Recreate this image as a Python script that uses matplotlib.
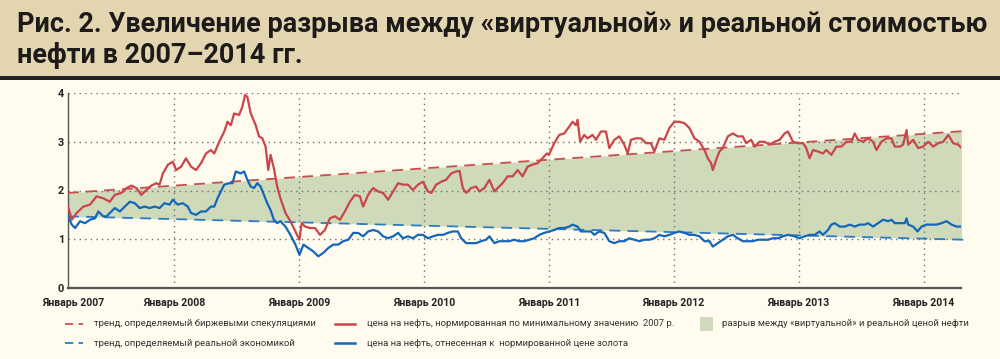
import numpy as np
import matplotlib
matplotlib.use("Agg")
import matplotlib.pyplot as plt
from matplotlib.lines import Line2D
from matplotlib.patches import Rectangle

# ---------------- data ----------------
oil_years = [2007.151, 2007.180, 2007.220, 2007.273, 2007.326, 2007.379, 2007.432, 2007.485, 2007.525, 2007.578,
             2007.618, 2007.658, 2007.698, 2007.737, 2007.777, 2007.817, 2007.857, 2007.883, 2007.910, 2007.950,
             2007.989, 2008.016, 2008.056, 2008.095, 2008.135, 2008.175, 2008.215, 2008.255, 2008.294, 2008.321,
             2008.361, 2008.401, 2008.427, 2008.454, 2008.480, 2008.520, 2008.546, 2008.568, 2008.586, 2008.613,
             2008.653, 2008.679, 2008.706, 2008.732, 2008.753, 2008.772, 2008.798, 2008.825, 2008.851, 2008.891,
             2008.931, 2008.971, 2009.003,
             2009.021, 2009.048, 2009.088, 2009.128, 2009.168, 2009.207, 2009.247, 2009.287, 2009.327, 2009.367,
             2009.407, 2009.447, 2009.487, 2009.513, 2009.553, 2009.593, 2009.633, 2009.673, 2009.713, 2009.753,
             2009.793, 2009.832, 2009.872, 2009.912, 2009.952, 2009.992, 2010.032, 2010.059, 2010.098, 2010.138,
             2010.178, 2010.218, 2010.258, 2010.285, 2010.311, 2010.338, 2010.378, 2010.418, 2010.444, 2010.484,
             2010.524, 2010.564, 2010.590, 2010.630, 2010.670, 2010.710, 2010.750, 2010.790, 2010.830, 2010.870,
             2010.910, 2010.949, 2010.984,
             2011.000, 2011.043, 2011.083, 2011.123, 2011.163, 2011.190, 2011.217, 2011.230, 2011.251, 2011.283,
             2011.310, 2011.350, 2011.377, 2011.417, 2011.457, 2011.484, 2011.524, 2011.564, 2011.604, 2011.631,
             2011.658, 2011.698, 2011.738, 2011.778, 2011.818, 2011.845, 2011.885, 2011.925, 2011.965, 2012.005,
             2012.045, 2012.086, 2012.126, 2012.166, 2012.206, 2012.246, 2012.273, 2012.299, 2012.313, 2012.340,
             2012.366, 2012.393, 2012.433, 2012.473, 2012.513, 2012.553, 2012.580, 2012.620, 2012.647, 2012.687,
             2012.727, 2012.767, 2012.807, 2012.848, 2012.888, 2012.914, 2012.955,
             2012.995, 2013.035, 2013.061, 2013.088, 2013.115, 2013.155, 2013.195, 2013.222, 2013.262, 2013.302,
             2013.342, 2013.382, 2013.422, 2013.449, 2013.476, 2013.516, 2013.556, 2013.596, 2013.623, 2013.663,
             2013.703, 2013.743, 2013.770, 2013.810, 2013.837, 2013.864, 2013.877, 2013.917, 2013.957, 2013.997,
             2014.037, 2014.078, 2014.118, 2014.158, 2014.198, 2014.238, 2014.278, 2014.305]
oil_norm = [1.67, 1.40, 1.54, 1.67, 1.71, 1.88, 1.84, 1.77, 1.91, 1.95,
            2.05, 2.10, 2.05, 1.91, 2.01, 2.10, 2.15, 2.12, 2.35, 2.53,
            2.59, 2.42, 2.49, 2.66, 2.49, 2.42, 2.56, 2.76, 2.83, 2.76,
            3.00, 3.21, 3.41, 3.34, 3.58, 3.55, 3.72, 3.96, 3.92, 3.58,
            3.34, 3.11, 3.07, 2.90, 2.42, 2.73, 2.46, 2.08, 1.84, 1.54,
            1.37, 1.16, 0.99,
            1.33, 1.26, 1.23, 1.23, 1.09, 1.19, 1.43, 1.47, 1.40, 1.57,
            1.77, 1.91, 1.88, 1.67, 1.91, 2.05, 1.98, 1.95, 1.81, 1.98,
            2.15, 2.12, 2.12, 2.01, 2.12, 2.18, 1.98, 1.95, 2.12, 2.18,
            2.22, 2.35, 2.39, 2.40, 2.05, 1.95, 2.05, 2.08, 1.98, 2.05,
            2.22, 1.98, 2.05, 2.15, 2.29, 2.29, 2.42, 2.29, 2.49, 2.53,
            2.56, 2.66, 2.76,
            2.73, 2.97, 3.14, 3.17, 3.31, 3.41, 3.34, 3.45, 3.00, 3.14,
            3.07, 3.14, 3.04, 3.21, 3.21, 2.87, 3.04, 3.11, 2.94, 2.76,
            3.04, 3.07, 3.07, 2.97, 2.97, 2.80, 3.07, 3.04, 3.28, 3.41,
            3.41, 3.38, 3.28, 3.07, 3.00, 2.83, 2.66, 2.56, 2.42, 2.63,
            2.80, 2.87, 3.11, 3.17, 3.11, 3.11, 2.97, 3.04, 2.90, 3.00,
            3.00, 2.94, 3.00, 3.04, 3.17, 3.21, 3.00,
            2.97, 2.97, 2.87, 2.66, 2.83, 2.80, 2.76, 2.83, 2.73, 2.90,
            2.90, 3.00, 3.00, 3.17, 3.04, 3.00, 3.07, 3.00, 2.83, 3.00,
            3.07, 3.07, 2.90, 2.90, 2.94, 3.24, 2.94, 3.04, 2.87, 2.90,
            3.00, 2.90, 2.97, 3.00, 3.14, 2.97, 2.94, 2.87]

gold_years = [2007.151, 2007.180, 2007.207, 2007.247, 2007.286, 2007.326, 2007.366, 2007.393, 2007.432, 2007.459,
              2007.485, 2007.525, 2007.565, 2007.605, 2007.645, 2007.684, 2007.724, 2007.764, 2007.804, 2007.844,
              2007.883, 2007.923, 2007.963, 2007.989, 2008.029, 2008.069, 2008.109, 2008.135, 2008.175, 2008.215,
              2008.255, 2008.294, 2008.321, 2008.347, 2008.374, 2008.401, 2008.440, 2008.467, 2008.493, 2008.533,
              2008.560, 2008.586, 2008.613, 2008.639, 2008.666, 2008.692, 2008.719, 2008.745, 2008.772, 2008.798,
              2008.825, 2008.851, 2008.891, 2008.931, 2008.971, 2009.003,
              2009.035, 2009.074, 2009.114, 2009.154, 2009.194, 2009.234, 2009.274, 2009.314, 2009.354, 2009.394,
              2009.434, 2009.473, 2009.513, 2009.553, 2009.593, 2009.633, 2009.673, 2009.713, 2009.753, 2009.793,
              2009.832, 2009.872, 2009.912, 2009.952, 2009.992, 2010.032, 2010.072, 2010.112, 2010.152, 2010.191,
              2010.231, 2010.271, 2010.298, 2010.338, 2010.378, 2010.418, 2010.457, 2010.497, 2010.524, 2010.564,
              2010.604, 2010.644, 2010.684, 2010.723, 2010.763, 2010.803, 2010.843, 2010.883, 2010.923, 2010.963,
              2011.003, 2011.043, 2011.083, 2011.123, 2011.163, 2011.190, 2011.230, 2011.257, 2011.297, 2011.337,
              2011.364, 2011.404, 2011.444, 2011.484, 2011.524, 2011.564, 2011.604, 2011.644, 2011.684, 2011.725,
              2011.765, 2011.805, 2011.845, 2011.885, 2011.925, 2011.965, 2012.005, 2012.045, 2012.086, 2012.126,
              2012.166, 2012.206, 2012.246, 2012.286, 2012.313, 2012.353, 2012.393, 2012.433, 2012.473, 2012.513,
              2012.553, 2012.594, 2012.634, 2012.674, 2012.714, 2012.754, 2012.794, 2012.834, 2012.874, 2012.914,
              2012.968, 2013.008, 2013.048, 2013.088, 2013.128, 2013.168, 2013.195, 2013.235, 2013.262, 2013.289,
              2013.329, 2013.369, 2013.409, 2013.449, 2013.489, 2013.529, 2013.556, 2013.596, 2013.636, 2013.676,
              2013.717, 2013.743, 2013.770, 2013.810, 2013.850, 2013.864, 2013.877, 2013.917, 2013.952, 2013.984,
              2014.024, 2014.064, 2014.104, 2014.144, 2014.184, 2014.225, 2014.265, 2014.305]
oil_gold = [1.47, 1.30, 1.23, 1.37, 1.33, 1.40, 1.43, 1.57, 1.47, 1.47,
            1.54, 1.64, 1.57, 1.67, 1.77, 1.74, 1.64, 1.67, 1.64, 1.67,
            1.64, 1.74, 1.71, 1.81, 1.71, 1.74, 1.67, 1.54, 1.50, 1.57,
            1.57, 1.67, 1.67, 1.84, 1.98, 2.12, 2.15, 2.15, 2.39, 2.35,
            2.39, 2.22, 2.08, 2.05, 2.15, 2.08, 1.91, 1.74, 1.60, 1.40,
            1.33, 1.37, 1.26, 1.09, 0.89, 0.68,
            0.89, 0.82, 0.75, 0.65, 0.72, 0.82, 0.89, 0.89, 0.96, 0.99,
            1.13, 1.13, 1.06, 1.16, 1.19, 1.16, 1.06, 1.02, 1.06, 1.13,
            1.02, 1.06, 1.02, 1.09, 1.09, 1.02, 1.06, 1.09, 1.09, 1.13,
            1.16, 1.16, 1.02, 0.92, 0.92, 0.92, 0.96, 0.99, 1.06, 0.92,
            0.96, 0.96, 0.96, 0.99, 0.96, 0.96, 0.99, 1.02, 1.09, 1.13,
            1.16, 1.19, 1.23, 1.23, 1.26, 1.30, 1.26, 1.16, 1.16, 1.16,
            1.09, 1.16, 1.13, 0.96, 0.92, 0.96, 0.96, 1.02, 0.99, 0.96,
            0.99, 0.99, 1.02, 1.09, 1.06, 1.09, 1.13, 1.16, 1.13, 1.09,
            1.09, 1.06, 0.96, 0.96, 0.85, 0.92, 0.99, 1.06, 1.09, 1.02,
            0.96, 0.96, 0.96, 0.99, 0.99, 0.99, 1.02, 1.02, 1.06, 1.09,
            1.06, 1.02, 1.06, 1.09, 1.09, 1.16, 1.09, 1.19, 1.30, 1.33,
            1.26, 1.26, 1.30, 1.26, 1.30, 1.30, 1.33, 1.26, 1.33, 1.40,
            1.37, 1.40, 1.33, 1.33, 1.33, 1.43, 1.30, 1.26, 1.16, 1.26,
            1.30, 1.30, 1.30, 1.33, 1.37, 1.30, 1.26, 1.26]

trend_years = [2007.15, 2014.33]
spec_trend = [1.95, 3.22]
real_trend = [1.47, 0.99]

grid_years = [2008, 2009, 2010, 2011, 2012, 2013, 2014]
grid_values = [1, 2, 3, 4]
xtick_pos = [2007.19, 2008, 2009, 2010, 2011, 2012, 2013, 2014]
xtick_labels = ["Январь 2007", "Январь 2008", "Январь 2009", "Январь 2010",
                "Январь 2011", "Январь 2012", "Январь 2013", "Январь 2014"]
ytick_pos = [0, 1, 2, 3, 4]

title_line1 = "Рис. 2. Увеличение разрыва между «виртуальной» и реальной стоимостью"
title_line2 = "нефти в 2007–2014 гг."
legend_labels = ["тренд, определяемый биржевыми спекуляциями",
                 "тренд, определяемый реальной экономикой",
                 "цена на нефть, нормированная по минимальному значению  2007 р.",
                 "цена на нефть, отнесенная к  нормированной цене золота",
                 "разрыв между «виртуальной» и реальной ценой нефти"]

# ---------------- style ----------------
BG = "#fffbef"
BAND = "#e4d5b1"
RED = "#c9464a"
BLUE = "#1467b8"
RED_D = "#c4504e"
BLUE_D = "#2a7cc2"
FILL = "#cfdabb"
W, H = 1000, 359

plt.rcParams['font.family'] = ['Roboto', 'DejaVu Sans']

fig = plt.figure(figsize=(10, 3.59), dpi=100, facecolor=BG)

# title band
fig.patches.append(Rectangle((0, 1 - 76 / H), 1, 76 / H, transform=fig.transFigure,
                             facecolor=BAND, edgecolor='none', zorder=0))
fig.patches.append(Rectangle((0, 1 - 80 / H), 1, 4 / H, transform=fig.transFigure,
                             facecolor="#222222", edgecolor='none', zorder=1))

t1 = fig.text(17 / W, 1 - 32 / H, title_line1, fontsize=19, fontweight='bold',
              color="#1d1a1a", ha='left', va='baseline')
t2 = fig.text(17 / W, 1 - 63 / H, title_line2, fontsize=19, fontweight='bold',
              color="#1d1a1a", ha='left', va='baseline')
fig.canvas.draw()
bb = t1.get_window_extent()
target = 971.0
fs = 19 * target / bb.width
t1.set_fontsize(fs)
t2.set_fontsize(fs)

ax = fig.add_axes([68 / W, 1 - 288 / H, (961 - 68) / W, (288 - 93) / H])
ax.set_facecolor(BG)
ax.set_xlim(2007.15, 2014.30)
ax.set_ylim(0, 4)

ax.fill_between(trend_years, real_trend, spec_trend, color=FILL, lw=0, zorder=1)

for gy in grid_years:
    ax.axvline(gy, color="#6e6e6e", lw=1.0, ls=(0, (1, 3)), zorder=2)
for gv in grid_values:
    ax.axhline(gv, color="#6e6e6e", lw=1.0, ls=(0, (1, 3)), zorder=2)

ax.plot(trend_years, spec_trend, color=RED_D, lw=1.3, ls=(0, (6, 4)), zorder=3, clip_on=False)
ax.plot(trend_years, real_trend, color=BLUE_D, lw=1.3, ls=(0, (6, 4)), zorder=3, clip_on=False)
ax.plot(oil_years, oil_norm, color=RED, lw=1.6, zorder=4)
ax.plot(gold_years, oil_gold, color=BLUE, lw=1.6, zorder=4)

for s in ['top', 'right']:
    ax.spines[s].set_visible(False)
ax.spines['left'].set_color("#555555")
ax.spines['left'].set_linewidth(1.0)
ax.spines['bottom'].set_color("#555555")
ax.spines['bottom'].set_linewidth(1.6)

ax.set_xticks(xtick_pos)
ax.set_xticklabels(xtick_labels, fontsize=7.6, fontweight='bold', color="#222222")
ax.set_yticks(ytick_pos)
ax.set_yticklabels([str(v) for v in ytick_pos], fontsize=7.8, fontweight='bold', color="#222222")
ax.tick_params(axis='x', length=0, pad=7)
ax.tick_params(axis='y', length=0, pad=3)

# legend (manual, figure coordinates)
def fy(y):
    return 1 - y / H

LFS = 6.8
LCOL = "#333333"
rows = [324, 343]
fig.add_artist(Line2D([65 / W, 83 / W], [fy(rows[0])] * 2, color=RED_D, lw=1.3, ls=(0, (4.5, 3))))
fig.add_artist(Line2D([65 / W, 83 / W], [fy(rows[1])] * 2, color=BLUE_D, lw=1.3, ls=(0, (4.5, 3))))
fig.add_artist(Line2D([335 / W, 355 / W], [fy(rows[0])] * 2, color=RED, lw=1.8))
fig.add_artist(Line2D([335 / W, 355 / W], [fy(rows[1])] * 2, color=BLUE, lw=1.8))
fig.patches.append(Rectangle((700 / W, fy(331)), 13 / W, 14 / H, transform=fig.transFigure,
                             facecolor=FILL, edgecolor='none'))
fig.text(94 / W, fy(rows[0]), legend_labels[0], fontsize=LFS, color=LCOL, ha='left', va='center')
fig.text(94 / W, fy(rows[1]), legend_labels[1], fontsize=LFS, color=LCOL, ha='left', va='center')
fig.text(367 / W, fy(rows[0]), legend_labels[2], fontsize=LFS, color=LCOL, ha='left', va='center')
fig.text(367 / W, fy(rows[1]), legend_labels[3], fontsize=LFS, color=LCOL, ha='left', va='center')
fig.text(722 / W, fy(rows[0]), legend_labels[4], fontsize=LFS, color=LCOL, ha='left', va='center')

fig.savefig("out.png", dpi=100, facecolor=BG)
